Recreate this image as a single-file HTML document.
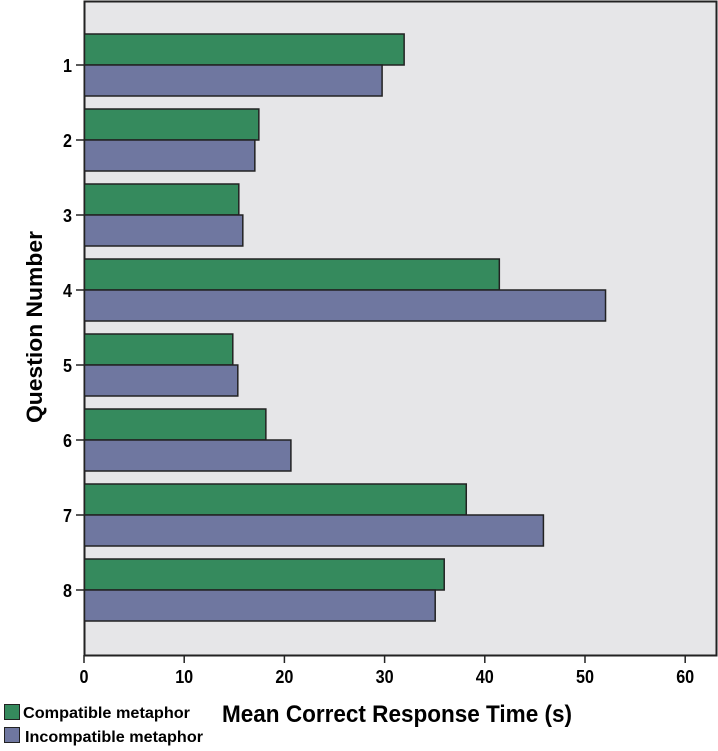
<!DOCTYPE html>
<html><head><meta charset="utf-8"><style>
body{margin:0;background:#fff;}
svg{display:block;font-family:"Liberation Sans",sans-serif;font-weight:bold;}
</style></head><body>
<svg width="718" height="751">
<rect x="84.5" y="1.5" width="632" height="654" fill="#e6e6e8" stroke="#222" stroke-width="2"/>
<g id="bars"></g><g id="axes"></g>
<text x="42" y="327" font-size="22" text-anchor="middle" textLength="192" lengthAdjust="spacingAndGlyphs" transform="rotate(-90 42 327)">Question Number</text>
<text x="222" y="722" font-size="24" textLength="350" lengthAdjust="spacingAndGlyphs">Mean Correct Response Time (s)</text>
<rect x="4.5" y="704.5" width="15" height="15" fill="#358a5d" stroke="#222"/>
<text x="23" y="718" font-size="16" textLength="167" lengthAdjust="spacingAndGlyphs">Compatible metaphor</text>
<rect x="4.5" y="727.5" width="15" height="15" fill="#6f77a0" stroke="#222"/>
<text x="25" y="742" font-size="16" textLength="178" lengthAdjust="spacingAndGlyphs">Incompatible metaphor</text>
</svg>
<script>
const categories=["1","2","3","4","5","6","7","8"];
const compatible=[31.9,17.4,15.4,41.4,14.8,18.1,38.1,35.9];
const incompatible=[29.7,17.0,15.8,52.0,15.3,20.6,45.8,35.0];
const xTicks=[0,10,20,30,40,50,60];
const NS="http://www.w3.org/2000/svg";
const x=v=>84+v*10.02;
const yc=i=>65+i*75;
const bars=document.getElementById('bars'),axes=document.getElementById('axes');
function mk(tag,attrs,parent){const e=document.createElementNS(NS,tag);for(const k in attrs)e.setAttribute(k,attrs[k]);parent.appendChild(e);return e;}
categories.forEach((c,i)=>{
  let r=mk('rect',{x:x(0)+0.5,y:yc(i)-31,width:x(compatible[i])-x(0),height:31,fill:'#358a5d',stroke:'#222','stroke-width':1.5},bars);
  
  
  r=mk('rect',{x:x(0)+0.5,y:yc(i),width:x(incompatible[i])-x(0),height:31,fill:'#6f77a0',stroke:'#222','stroke-width':1.5},bars);
  
  
  mk('line',{x1:76,x2:84,y1:yc(i),y2:yc(i),stroke:'#222','stroke-width':1.5},axes);
  const t=mk('text',{x:72,y:yc(i)+7,'font-size':18,'text-anchor':'end',textLength:9,lengthAdjust:'spacingAndGlyphs'},axes);
  t.textContent=c;
  
  
});
xTicks.forEach(v=>{
  mk('line',{x1:x(v),x2:x(v),y1:655,y2:663,stroke:'#222','stroke-width':1.5},axes);
  const s=String(v);
  const t=mk('text',{x:x(v),y:683,'font-size':18,'text-anchor':'middle',textLength:s.length*9,lengthAdjust:'spacingAndGlyphs'},axes);
  t.textContent=s;
  
  
});
</script>
</body></html>
